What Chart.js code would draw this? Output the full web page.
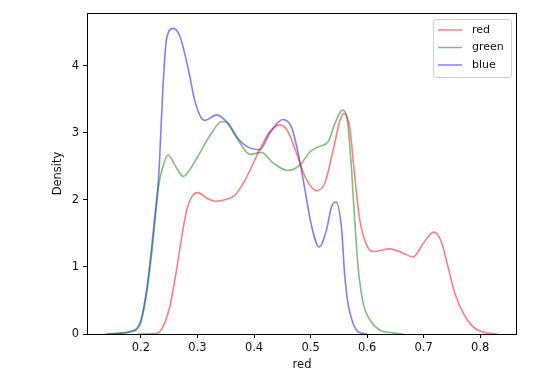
<!DOCTYPE html>
<html>
<head>
<meta charset="utf-8">
<script src="https://cdn.jsdelivr.net/npm/chart.js@4"></script>
<style>
  html, body { margin: 0; padding: 0; background: #fff; }
  #wrap { width: 545px; height: 388px; }
</style>
</head>
<body>
<div id="wrap"><canvas class="myChart" width="545" height="388"></canvas></div>
<script>
const seriesNames = ['red', 'green', 'blue'];

const redX = [0.195, 0.228, 0.239, 0.251, 0.263, 0.272, 0.281, 0.29, 0.301, 0.316, 0.331, 0.351, 0.366, 0.381,
  0.393, 0.41, 0.428, 0.446, 0.46, 0.475, 0.49, 0.51, 0.525, 0.54, 0.552, 0.559, 0.569, 0.578, 0.587, 0.599,
  0.61, 0.64, 0.663, 0.681, 0.699, 0.718, 0.731, 0.743, 0.755, 0.77, 0.787, 0.805, 0.831];
const redY = [0, 0.01, 0.11, 0.41, 0.96, 1.45, 1.85, 2.05, 2.11, 2.03, 1.98, 2.01, 2.07, 2.25,
  2.45, 2.75, 3.02, 3.12, 3.02, 2.7, 2.35, 2.14, 2.25, 2.75, 3.19, 3.29, 3.09, 2.35, 1.7, 1.33,
  1.23, 1.27, 1.21, 1.15, 1.35, 1.52, 1.38, 1.0, 0.61, 0.31, 0.11, 0.03, 0];

const greenX = [0.143, 0.18, 0.198, 0.21, 0.219, 0.225, 0.231, 0.239, 0.248, 0.26, 0.275, 0.29, 0.304, 0.325,
  0.343, 0.357, 0.375, 0.393, 0.413, 0.434, 0.46, 0.481, 0.499, 0.516, 0.531, 0.543, 0.556, 0.564, 0.572,
  0.578, 0.584, 0.593, 0.605, 0.622, 0.643, 0.663];
const greenY = [0, 0.03, 0.13, 0.6, 1.2, 1.7, 2.2, 2.5, 2.67, 2.52, 2.35, 2.5, 2.7, 3.0,
  3.17, 3.12, 2.85, 2.68, 2.71, 2.55, 2.44, 2.52, 2.72, 2.8, 2.87, 3.14, 3.34, 3.24, 2.5,
  1.7, 1.0, 0.46, 0.21, 0.06, 0.02, 0];

const blueX = [0.138, 0.16, 0.18, 0.198, 0.21, 0.219, 0.225, 0.231, 0.239, 0.245, 0.257, 0.269, 0.284, 0.295,
  0.307, 0.313, 0.334, 0.351, 0.369, 0.387, 0.41, 0.428, 0.451, 0.466, 0.478, 0.49, 0.502, 0.515, 0.528,
  0.537, 0.545, 0.555, 0.56, 0.566, 0.575, 0.584, 0.6];
const blueY = [0, 0.01, 0.035, 0.16, 0.66, 1.3, 1.8, 2.3, 3.69, 4.39, 4.56, 4.44, 3.94, 3.49,
  3.22, 3.19, 3.27, 3.17, 2.94, 2.8, 2.75, 3.0, 3.2, 3.09, 2.7, 2.15, 1.6, 1.3, 1.55,
  1.9, 1.97, 1.55, 0.91, 0.46, 0.16, 0.035, 0];

const xTicks = [0.2, 0.3, 0.4, 0.5, 0.6, 0.7, 0.8];
const yTicks = [0, 1, 2, 3, 4];

const COLORS = ['rgba(255, 0, 0, 0.5)', 'rgba(0, 128, 0, 0.5)', 'rgba(0, 0, 255, 0.5)'];
const FONT = 'DejaVu Sans';

function toPoints(xs, ys) {
  return xs.map((x, i) => ({x: x, y: ys[i]}));
}

// spines on all four sides + matplotlib-like legend box
const framePlugin = {
  id: 'frame',
  afterDraw(chart) {
    const {ctx, chartArea: a} = chart;
    ctx.save();
    ctx.strokeStyle = '#000';
    ctx.lineWidth = 1;
    ctx.strokeRect(a.left + 0.5, a.top + 0.5, a.right - a.left - 1, a.bottom - a.top);

    const bw = 78, bh = 58;
    const bx = a.right - 6 - bw, by = a.top + 6;
    ctx.beginPath();
    ctx.roundRect(bx + 0.5, by + 0.5, bw, bh, 2);
    ctx.fillStyle = 'rgba(255,255,255,0.8)';
    ctx.fill();
    ctx.strokeStyle = '#d0d0d0';
    ctx.stroke();

    ctx.font = '11px "' + FONT + '"';
    ctx.textBaseline = 'middle';
    ctx.fillStyle = '#111';
    chart.data.datasets.forEach((ds, i) => {
      const y = by + 11 + i * 17.5;
      ctx.strokeStyle = ds.borderColor;
      ctx.lineWidth = 1.5;
      ctx.beginPath();
      ctx.moveTo(bx + 5, y);
      ctx.lineTo(bx + 29, y);
      ctx.stroke();
      ctx.fillText(ds.label, bx + 39, y);
    });
    ctx.restore();
  }
};

const ctx = document.getElementsByClassName('myChart')[0].getContext('2d');
const chart = new Chart(ctx, {
  type: 'line',
  data: {
    datasets: [
      {label: seriesNames[0], data: toPoints(redX, redY), borderColor: COLORS[0]},
      {label: seriesNames[1], data: toPoints(greenX, greenY), borderColor: COLORS[1]},
      {label: seriesNames[2], data: toPoints(blueX, blueY), borderColor: COLORS[2]},
    ].map(ds => Object.assign(ds, {
      fill: false,
      borderWidth: 1.6,
      pointRadius: 0,
      cubicInterpolationMode: 'monotone',
    })),
  },
  options: {
    responsive: false,
    animation: false,
    layout: {padding: {left: 0, right: 28, top: 13, bottom: 0}},
    plugins: {legend: {display: false}, tooltip: {enabled: false}},
    scales: {
      x: {
        type: 'linear',
        min: 0.1046,
        max: 0.865,
        afterFit(scale) { scale.height = 54; },
        afterBuildTicks(scale) { scale.ticks = xTicks.map(v => ({value: v})); },
        border: {display: false},
        grid: {drawOnChartArea: false, drawTicks: true, tickLength: 4, tickColor: '#000'},
        ticks: {
          font: {family: FONT, size: 11.5},
          color: '#111',
          padding: 3,
          maxRotation: 0,
          callback: v => v.toFixed(1),
        },
        title: {display: true, text: 'red', font: {family: FONT, size: 11.5}, color: '#111',
          padding: {top: 0, bottom: 16}},
      },
      y: {
        type: 'linear',
        min: 0,
        max: 4.79,
        afterFit(scale) { scale.width = 87; },
        afterBuildTicks(scale) { scale.ticks = yTicks.map(v => ({value: v})); },
        border: {display: false},
        grid: {drawOnChartArea: false, drawTicks: true, tickLength: 4, tickColor: '#000'},
        ticks: {
          font: {family: FONT, size: 11.5},
          color: '#111',
          padding: 4,
          callback: v => String(v),
        },
        title: {display: true, text: 'Density', font: {family: FONT, size: 11.5}, color: '#111',
          padding: {top: 51, bottom: 0}},
      },
    },
  },
  plugins: [framePlugin],
});
</script>
</body>
</html>
